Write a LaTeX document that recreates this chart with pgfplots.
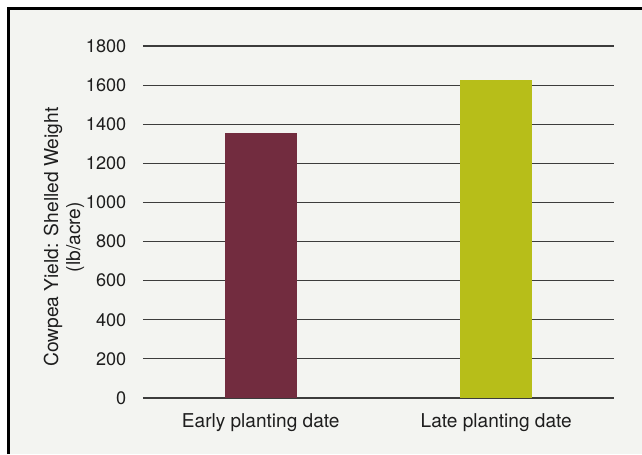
\documentclass[border=0pt]{standalone}
\usepackage{fontspec}
\setmainfont{TeX Gyre Heros}
\usepackage{pgfplots}
\pgfplotsset{compat=1.18}

\definecolor{panel}{HTML}{F3F4F1}
\definecolor{earlybar}{HTML}{722C3F}
\definecolor{latebar}{HTML}{B7BE19}
\definecolor{gridc}{HTML}{3C3C3C}
\definecolor{txt}{HTML}{1E1E1E}

\begin{document}
\begin{tikzpicture}
% page box: 642 x 454 px at 0.75pt per px, axis corner at (143,398) px
\useasboundingbox (-107.25pt,-42pt) rectangle (374.25pt,298.5pt);
\fill[white] (-107.25pt,-42pt) rectangle (374.25pt,298.5pt);
\fill[panel] (-100.9pt,-42pt) rectangle (374.25pt,292.1pt);
\draw[black, line width=1.9pt] (-100.9pt,-42pt) -- (-100.9pt,292.1pt) -- (374.25pt,292.1pt);

\begin{axis}[
    at={(0,0)}, anchor=south west,
    scale only axis,
    width=353.25pt, height=264pt,
    xmin=-0.5, xmax=1.5,
    ymin=0, ymax=1800,
    ytick={0,200,...,1800},
    xtick={0,1},
    xticklabels={Early planting date, Late planting date},
    axis line style={draw=none},
    major tick length=0pt,
    ymajorgrids,
    grid style={gridc, line width=0.8pt},
    font=\fontsize{13.6}{16}\selectfont,
    /pgf/number format/assume math mode=true,
    /pgf/number format/1000 sep={},
    tick label style={txt},
    yticklabel style={xshift=-9pt},
    xticklabel style={yshift=-8pt, font=\fontsize{14.3}{16}\selectfont},
    ylabel={Cowpea Yield: Shelled Weight\\(lb/acre)},
    ylabel style={at={(axis description cs:-0.168,0.457)}, anchor=center,
        align=center, txt,
        font=\fontsize{14.4}{16.5}\selectfont},
    clip=false,
]
\addplot[ybar, bar shift=0pt, bar width=54pt, fill=earlybar, draw=none]
    coordinates {(0,1355)};
\addplot[ybar, bar shift=0pt, bar width=54pt, fill=latebar, draw=none]
    coordinates {(1,1625)};
\end{axis}
\end{tikzpicture}
\end{document}
